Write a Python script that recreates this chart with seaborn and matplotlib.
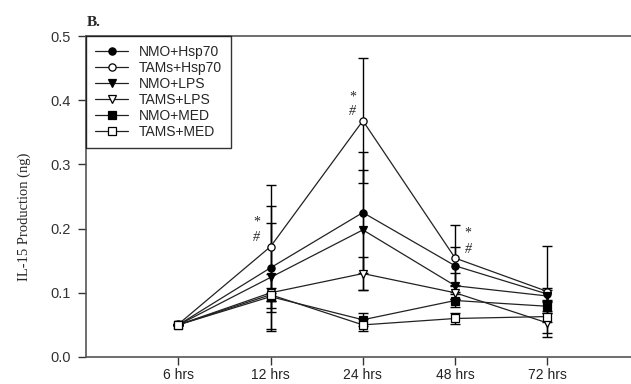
import numpy as np
import pandas as pd
import matplotlib
matplotlib.use("Agg")
import matplotlib.pyplot as plt
import seaborn as sns

sns.set_style("ticks")
plt.rcParams['font.family'] = ['Liberation Sans', 'DejaVu Sans']

time_labels = ["6 hrs", "12 hrs", "24 hrs", "48 hrs", "72 hrs"]
series_names = ["NMO+Hsp70", "TAMs+Hsp70", "NMO+LPS", "TAMS+LPS", "NMO+MED", "TAMS+MED"]

nmo_hsp70 = [0.050, 0.139, 0.225, 0.142, 0.098]
tams_hsp70 = [0.051, 0.172, 0.368, 0.154, 0.102]
nmo_lps = [0.050, 0.124, 0.198, 0.111, 0.095]
tams_lps = [0.050, 0.100, 0.130, 0.100, 0.053]
nmo_med = [0.050, 0.094, 0.058, 0.088, 0.079]
tams_med = [0.050, 0.097, 0.050, 0.060, 0.063]

err_nmo_hsp70 = [0.0, 0.096, 0.094, 0.030, 0.010]
err_tams_hsp70 = [0.0, 0.096, 0.097, 0.052, 0.071]
err_nmo_lps = [0.0, 0.084, 0.093, 0.020, 0.010]
err_tams_lps = [0.0, 0.030, 0.025, 0.010, 0.015]
err_nmo_med = [0.0, 0.006, 0.010, 0.010, 0.010]
err_tams_med = [0.0, 0.010, 0.009, 0.008, 0.008]

values = [nmo_hsp70, tams_hsp70, nmo_lps, tams_lps, nmo_med, tams_med]
errors = [err_nmo_hsp70, err_tams_hsp70, err_nmo_lps, err_tams_lps, err_nmo_med, err_tams_med]
markers = ["o", "o", "v", "v", "s", "s"]
faces = ["black", "white", "black", "white", "black", "white"]
msizes = [5.2, 5.2, 5.5, 5.5, 5.2, 5.2]

# significance annotations (x position, y, text)
sig_x = [1.85, 1.85, 2.89, 2.89, 4.14, 4.14]
sig_y = [0.210, 0.186, 0.405, 0.383, 0.193, 0.168]
sig_t = ["*", "#", "*", "#", "*", "#"]

x = np.arange(1, len(time_labels) + 1)

fig = plt.figure(figsize=(6.31, 3.84), dpi=100)
ax = fig.add_axes([86/631, 27/384, 545/631, 321/384])

for v, e in zip(values, errors):
    ax.errorbar(x, v, yerr=e, fmt="none", ecolor="black", elinewidth=1.0,
                capsize=3.5, capthick=1.0, zorder=1)

for name, v, m, fc, ms in zip(series_names, values, markers, faces, msizes):
    df = pd.DataFrame({"t": x, "v": v})
    sns.lineplot(data=df, x="t", y="v", ax=ax, color="#222222", linewidth=0.9,
                 marker=m, markersize=ms, markerfacecolor=fc,
                 markeredgecolor="black", markeredgewidth=0.9,
                 label=name, zorder=3)

for sx, sy, st in zip(sig_x, sig_y, sig_t):
    ax.text(sx, sy, st, ha="center", va="center", fontsize=10,
            family="Liberation Serif", style="italic" if st == "#" else "normal")

ax.set_xlim(0, 5.905)
ax.set_ylim(0, 0.5)
ax.set_xticks(x)
ax.set_xticklabels(time_labels, fontsize=10, color="#222222")
ax.set_yticks([0.0, 0.1, 0.2, 0.3, 0.4, 0.5])
ax.set_yticklabels(["0.0", "0.1", "0.2", "0.3", "0.4", "0.5"], fontsize=10.5, color="#333333")
ax.tick_params(axis="both", direction="out", length=6, width=1, color="#333333")
ax.tick_params(axis="y", pad=5)
ax.tick_params(axis="x", pad=2)
ax.set_xlabel("")
ax.set_ylabel("IL-15 Production (ng)", family="Liberation Serif", fontsize=10.5)
ax.yaxis.set_label_coords(-55/545, (357 - 217) / 321)

for s in ["left", "bottom", "top"]:
    ax.spines[s].set_visible(True)
    ax.spines[s].set_color("#555555")
    ax.spines[s].set_linewidth(1.2)
ax.spines["right"].set_visible(False)

leg = ax.legend(loc="upper left", bbox_to_anchor=(0, 1), borderaxespad=0,
                frameon=True, fancybox=False, edgecolor="black", fontsize=10,
                handlelength=2.4, handletextpad=0.75, labelspacing=0.14,
                borderpad=0.65)
leg.get_frame().set_linewidth(1.0)

fig.text(87/631, 1 - 22/384, "B.", family="Liberation Serif", fontweight="bold",
         fontsize=11, ha="left", va="center")

fig.savefig("out.png", dpi=100)
